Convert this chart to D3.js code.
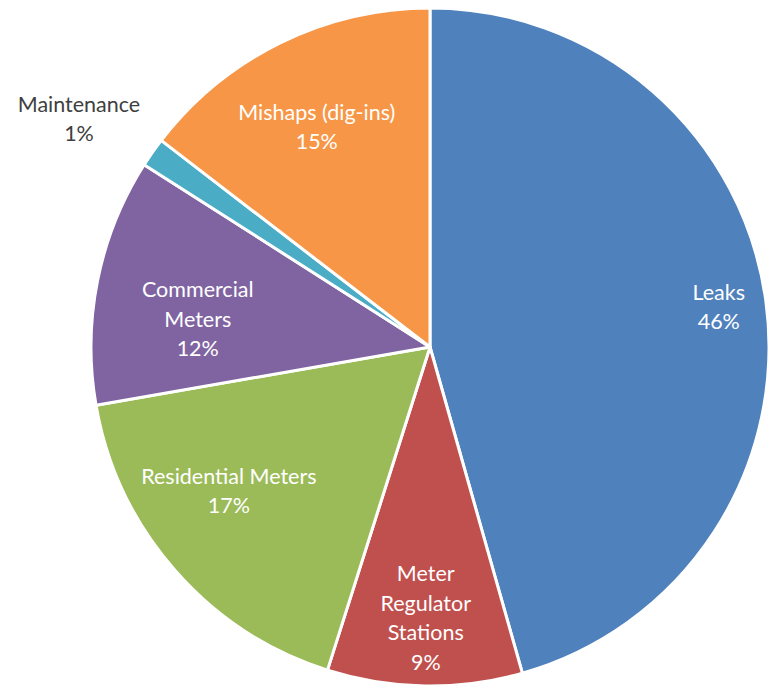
<!DOCTYPE html>
<html>
<head>
<meta charset="utf-8">
<script src="https://cdn.jsdelivr.net/npm/d3@7"></script>
<style>
  html, body { margin: 0; padding: 0; background: #fff; overflow: hidden; }
  text { font-family: Lato, "Open Sans", sans-serif; }
</style>
</head>
<body>
<script>
// slices, clockwise from 12 o'clock
var categories = ['Leaks', 'Meter Regulator Stations', 'Residential Meters', 'Commercial Meters', 'Maintenance', 'Mishaps (dig-ins)'];
var values = [45.7, 9.3, 17.4, 11.8, 1.4, 14.6];
var labelLines = [['Leaks'], ['Meter', 'Regulator', 'Stations'], ['Residential Meters'], ['Commercial', 'Meters'], ['Maintenance'], ['Mishaps (dig-ins)']];
var colors = ['#4f81bd', '#c0504d', '#9bbb59', '#8064a2', '#4bacc6', '#f79646'];

var width = 768;
var height = 686;
var cx = 430, cy = 347, radius = 339;

// where each label sits: fraction of radius, and angle nudge in degrees
var labelPos = [
	{r: 0.86, da: 0},
	{r: 0.80, da: 0},
	{r: 0.73, da: 5.5},
	{r: 0.69, da: -4.5},
	{r: 1.235, da: -2},
	{r: 0.73, da: -1}
];
var outside = [false, false, false, false, true, false];

var data = categories.map((c, i) => ({name: c, value: values[i], lines: labelLines[i], color: colors[i], i: i}));
var total = d3.sum(values);

var pie = d3.pie().sort(null).value(d => d.value);
var arc = d3.arc().innerRadius(0).outerRadius(radius);

var svg = d3.select('body').append('svg').attr('width', width).attr('height', height);
var g = svg.append('g').attr('transform', `translate(${cx},${cy})`);

var arcs = pie(data);

g.selectAll('path.slice')
	.data(arcs)
	.enter().append('path')
		.attr('class', 'slice')
		.attr('d', arc)
		.attr('fill', d => d.data.color)
		.attr('stroke', '#fff')
		.attr('stroke-width', 3)
		.attr('stroke-linejoin', 'round');

var lineH = 29.5;
var labels = g.selectAll('text.label')
	.data(arcs)
	.enter().append('text')
		.attr('class', 'label')
		.attr('text-anchor', 'middle')
		.attr('font-size', 21.5)
		.attr('fill', d => outside[d.data.i] ? '#404040' : '#fff')
		.attr('transform', d => {
			var p = labelPos[d.data.i];
			var a = (d.startAngle + d.endAngle) / 2 + p.da * Math.PI / 180;
			var rr = p.r * radius;
			return `translate(${rr * Math.sin(a)},${-rr * Math.cos(a)})`;
		});

labels.each(function(d) {
	var lines = d.data.lines.concat([Math.round(d.data.value / total * 100) + '%']);
	var n = lines.length;
	var t = d3.select(this);
	lines.forEach((s, k) => {
		t.append('tspan')
			.attr('x', 0)
			.attr('y', (k - (n - 1) / 2) * lineH)
			.attr('dy', '0.35em')
			.text(s);
	});
});
</script>
</body>
</html>
